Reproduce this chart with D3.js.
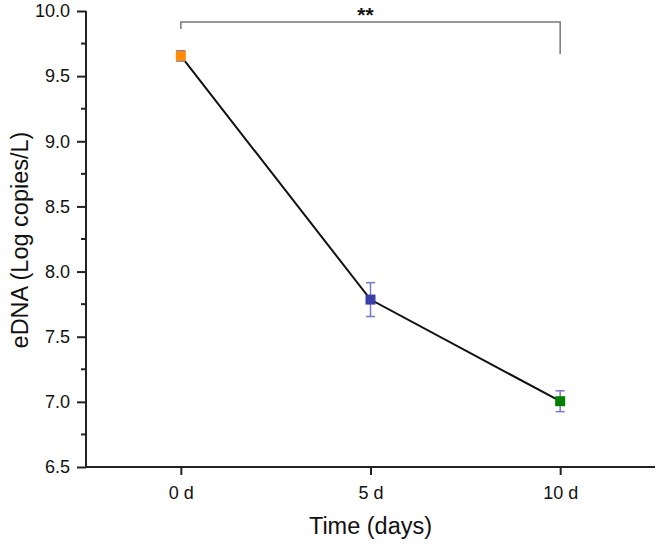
<!DOCTYPE html>
<html><head><meta charset="utf-8">
<script src="https://cdn.jsdelivr.net/npm/d3@7"></script>
<style>body{margin:0;background:#fff}svg{display:block}text{font-family:"Liberation Sans",Arial,sans-serif;fill:#111}</style>
</head><body><svg id="c" width="661" height="547"></svg>
<script>
const categories = ["0 d", "5 d", "10 d"];
const means = [9.655, 7.785, 7.005];
const errors = [0.04, 0.13, 0.08];
const colors = ["#FF8C00", "#3A3FA6", "#008000"];
const yTicks = [6.5, 7.0, 7.5, 8.0, 8.5, 9.0, 9.5, 10.0];
const sigLabel = "**";

const svg = d3.select("#c");
const L = 86, R = 655, T = 11, B = 467;
const x = d3.scaleLinear().domain([-0.5, 2.5]).range([L, R]);
const y = d3.scaleLinear().domain([6.5, 10.0]).range([B, T]);

// y axis
const ya = d3.axisLeft(y).tickValues(yTicks).tickFormat(d3.format(".1f")).tickSize(9).tickPadding(7);
const gy = svg.append("g").attr("transform", `translate(${L},0)`).call(ya);
gy.select(".domain").attr("stroke", "#222").attr("stroke-width", 2).attr("d", `M0,${B}V${T}`);
gy.selectAll(".tick line").attr("stroke", "#222").attr("stroke-width", 2);
gy.selectAll(".tick text").style("font-size", "18px").attr("fill", "#111");
const minor = d3.range(6.75, 10, 0.5);
gy.selectAll(".minor").data(minor).enter().append("line")
  .attr("x1", -5).attr("x2", 0).attr("y1", d => y(d)).attr("y2", d => y(d))
  .attr("stroke", "#222").attr("stroke-width", 2);

// x axis
const xa = d3.axisBottom(x).tickValues([0, 1, 2]).tickFormat(i => categories[i]).tickSize(8).tickPadding(11);
const gx = svg.append("g").attr("transform", `translate(0,${B})`).call(xa);
gx.select(".domain").attr("stroke", "#222").attr("stroke-width", 2).attr("d", `M${L-1},0H${R}`);
gx.selectAll(".tick line").attr("stroke", "#222").attr("stroke-width", 2);
gx.selectAll(".tick text").style("font-size", "18px").attr("fill", "#111");

// axis titles
svg.append("text").attr("x", x(1)).attr("y", 534).attr("text-anchor", "middle")
  .style("font-size", "23.5px").text("Time (days)");
svg.append("text").attr("transform", `translate(28,${(T+B)/2+1}) rotate(-90)`).attr("text-anchor", "middle")
  .style("font-size", "23.5px").text("eDNA (Log copies/L)");

// line
const idx = [0, 1, 2];
svg.append("path").datum(idx)
  .attr("d", d3.line().x(i => x(i)).y(i => y(means[i])))
  .attr("fill", "none").attr("stroke", "#111").attr("stroke-width", 2);

// error bars
const eb = svg.append("g").attr("stroke", "#7878C8").attr("stroke-width", 1.5);
idx.forEach(i => {
  const cx = x(i), y1 = y(means[i] + errors[i]), y2 = y(means[i] - errors[i]);
  eb.append("line").attr("x1", cx).attr("x2", cx).attr("y1", y1).attr("y2", y2);
  eb.append("line").attr("x1", cx - 4.5).attr("x2", cx + 4.5).attr("y1", y1).attr("y2", y1);
  eb.append("line").attr("x1", cx - 4.5).attr("x2", cx + 4.5).attr("y1", y2).attr("y2", y2);
});

// markers
svg.selectAll(".pt").data(idx).enter().append("rect")
  .attr("x", i => x(i) - 5).attr("y", i => y(means[i]) - 5)
  .attr("width", 10).attr("height", 10).attr("fill", i => colors[i]);

// significance bracket
const by = 22;
svg.append("path")
  .attr("d", `M${x(0)},${by+7}V${by}H${x(2)}V${by+32}`)
  .attr("fill", "none").attr("stroke", "#777").attr("stroke-width", 1.5);
svg.append("text").attr("x", x(1) - 5).attr("y", 21.5).attr("text-anchor", "middle")
  .style("font-size", "21px").style("font-weight", "bold").text(sigLabel);
</script></body></html>
